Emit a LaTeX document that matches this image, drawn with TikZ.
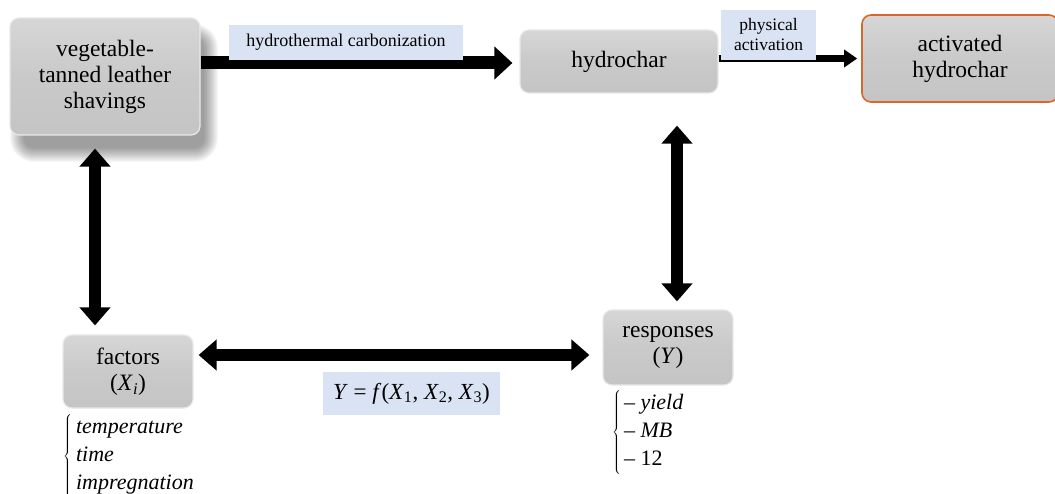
\documentclass[tikz,border=0pt]{standalone}
\usepackage{fontspec}
\setmainfont{Liberation Serif}
\usetikzlibrary{arrows.meta}
\definecolor{lblue}{HTML}{DAE3F3}
\definecolor{orng}{HTML}{D8682A}
\tikzset{
  gbox/.style={rounded corners=9pt, draw=black!9, line width=1.2pt,
    top color=black!16, bottom color=black!23, middle color=black!21,
    align=center, inner sep=0pt, font=\fontsize{23.5}{26}\selectfont},
  lbl/.style={fill=lblue, align=center, inner sep=0pt},
  bigarrow/.style={line width=13pt, -{Triangle[length=18pt,width=32pt]}},
  dblarrow/.style={line width=12pt, {Triangle[length=18pt,width=30pt]}-{Triangle[length=18pt,width=30pt]}},
  smallarrow/.style={line width=7pt, -{Triangle[length=13pt,width=17pt]}},
  listnode/.style={anchor=north west, inner sep=0pt, font=\fontsize{22}{28}\selectfont}
}
\begin{document}
\begin{tikzpicture}[x=1pt,y=-1pt]
\useasboundingbox (0,0) rectangle (1055,494);
% soft shadow of the first box
\foreach \i in {0,...,14}{
  \fill[black, opacity=0.032, rounded corners={10pt+\i pt}]
    ({24-\i},{38-\i}) rectangle ({204+\i},{148+\i});
}
% boxes
\node[gbox, minimum width=190pt, minimum height=117pt]
  (leather) at (105,76.5) {vegetable-\\tanned leather\\shavings};
\node[gbox, minimum width=198pt, minimum height=63pt] (hydro) at (619,61.5) {hydrochar};
\node[gbox, draw=orng, line width=1.6pt, minimum width=196pt, minimum height=87pt] (act) at (960,58.5) {activated\\hydrochar};
\node[gbox, minimum width=130pt, minimum height=73pt] (fact) at (128,371.5) {factors\\(\textit{X}\textsubscript{\textit{i}})};
\node[gbox, minimum width=130pt, minimum height=75pt] (resp) at (668,347.5) {responses\\(\textit{Y})};
% arrows
\draw[bigarrow, shorten >=7pt] ([yshift=-1.5pt]leather.east |- hydro.west) -- ([yshift=-1.5pt]hydro.west);
\draw[smallarrow, shorten >=4pt] (hydro.east |- act.west) -- (act.west);
\draw[dblarrow, shorten <=13pt, shorten >=9pt] ([xshift=-10pt]leather.south) -- ([xshift=-10pt]leather.south |- fact.north);
\draw[dblarrow, shorten <=32pt, shorten >=8pt] ([xshift=9pt]resp.north |- hydro.south) -- ([xshift=9pt]resp.north);
\draw[dblarrow, shorten <=5pt, shorten >=13pt] ([yshift=16.5pt]fact.east) -- ([yshift=16.5pt]fact.east -| resp.west);
% labels
\node[lbl, minimum width=234pt, minimum height=35pt, font=\fontsize{18}{20}\selectfont] (hlab) at (346,42.5) {hydrothermal carbonization};
\node[lbl, minimum width=95pt, minimum height=50pt, font=\fontsize{17.5}{20}\selectfont] (plab) at (768.5,35) {physical\\activation};
\node[lbl, minimum width=177pt, minimum height=43pt, font=\fontsize{23}{26}\selectfont] (flab) at (411.5,393.5)
  {\textit{Y} = \textit{f}(\textit{X}\textsubscript{1}, \textit{X}\textsubscript{2}, \textit{X}\textsubscript{3})};
% lists
\node[listnode] (flist) at (63,414) {$\left\{\begin{array}{@{\hspace{4pt}}l@{}}\mbox{\textit{temperature}}\\\mbox{\textit{time}}\\\mbox{\textit{impregnation}}\end{array}\right.$};
\node[listnode] (rlist) at (612,390) {$\left\{\begin{array}{@{\hspace{3pt}}l@{}}\mbox{– \textit{yield}}\\\mbox{– \textit{MB}}\\\mbox{– 12}\end{array}\right.$};
\end{tikzpicture}
\end{document}
